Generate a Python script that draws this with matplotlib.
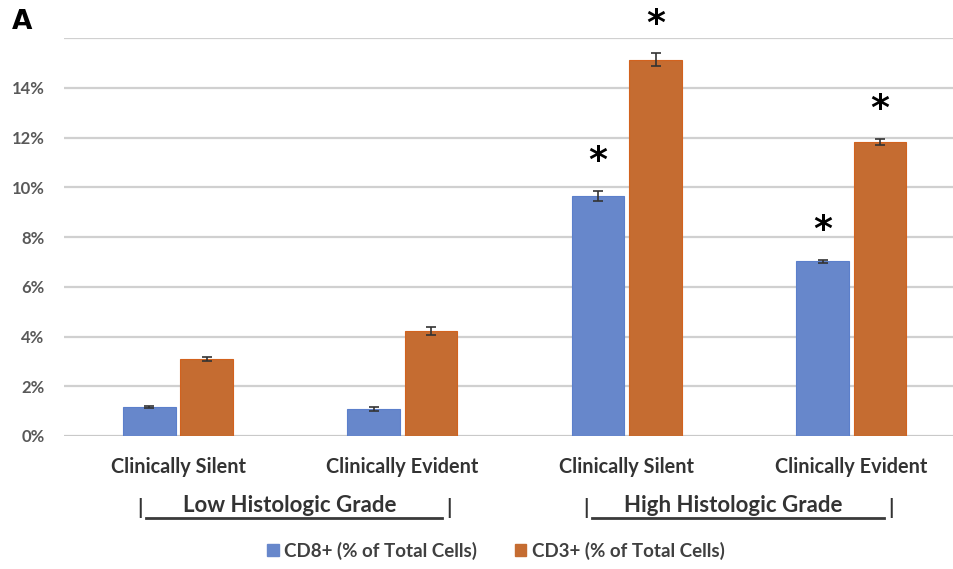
import matplotlib
matplotlib.use("Agg")
import matplotlib.pyplot as plt
import numpy as np
from matplotlib.lines import Line2D
from matplotlib.patches import Patch

categories = ["Clinically Silent", "Clinically Evident", "Clinically Silent", "Clinically Evident"]
groups = ["Low Histologic Grade", "High Histologic Grade"]
series_names = ["CD8+ (% of Total Cells)", "CD3+ (% of Total Cells)"]
cd8 = [1.17, 1.09, 9.66, 7.02]
cd8_err = [0.04, 0.08, 0.2, 0.07]
cd3 = [3.10, 4.23, 15.13, 11.83]
cd3_err = [0.07, 0.15, 0.25, 0.12]
cd8_sig = [False, False, True, True]
cd3_sig = [False, False, True, True]
yticks = [0, 2, 4, 6, 8, 10, 12, 14, 16]
ytick_labels = ["0%", "2%", "4%", "6%", "8%", "10%", "12%", "14%", ""]

W, H = 954, 569
fig = plt.figure(figsize=(W/100, H/100), dpi=100)
plt.rcParams['font.family'] = ['Lato', 'DejaVu Sans']

def fx(px):
    return px / W
def fy(py):
    return 1 - py / H

TXT = "#333333"
ax = fig.add_axes([fx(64), fy(436), fx(954) - fx(64), fy(38) - fy(436)])
x = np.arange(len(categories))
bw = 0.234
off = 0.128
blue = "#6787CB"
orange = "#C56C31"
ax.bar(x - off, cd8, bw, color=blue, edgecolor="#5B7FCB", linewidth=0.8, zorder=3)
ax.bar(x + off, cd3, bw, color=orange, edgecolor="#D2621E", linewidth=0.8, zorder=3)
ax.errorbar(x - off, cd8, yerr=cd8_err, fmt='none', ecolor="#333333", elinewidth=1.2, capsize=3.5, capthick=1.2, zorder=4)
ax.errorbar(x + off, cd3, yerr=cd3_err, fmt='none', ecolor="#333333", elinewidth=1.2, capsize=3.5, capthick=1.2, zorder=4)

for xs, vals, errs, sigs in [(x - off, cd8, cd8_err, cd8_sig), (x + off, cd3, cd3_err, cd3_sig)]:
    for xi, v, e, s in zip(xs, vals, errs, sigs):
        if s:
            ax.annotate("*", (xi, v + e), xytext=(0, 9), textcoords="offset points",
                        ha="center", va="bottom", fontsize=26, fontweight="bold",
                        color="black", family="DejaVu Sans")

ax.set_xlim(-0.508, 3.457)
ax.set_ylim(0, 16)
ax.set_yticks(yticks)
ax.set_yticklabels(ytick_labels, fontsize=12, fontweight="bold", color="#595959")
ax.yaxis.grid(True, color="#D0D0D0", linewidth=1.6, zorder=0)
ax.set_axisbelow(True)
ax.tick_params(axis="y", length=0, pad=14)
ax.set_xticks(x)
ax.set_xticklabels(categories, fontsize=14.3, color=TXT, fontweight="bold")
ax.tick_params(axis="x", length=0, pad=15)
for sp in ax.spines.values():
    sp.set_visible(False)
ax.axhline(0, color="#C8C8C8", linewidth=1.8, zorder=1)

# group labels
for gname, l, r in zip(groups, [140, 586], [449, 891]):
    fig.text(fx(l), fy(508), "|", fontsize=15, color=TXT, ha="center", va="center", fontweight="bold")
    fig.text(fx(r), fy(508), "|", fontsize=15, color=TXT, ha="center", va="center", fontweight="bold")
    fig.text(fx((l + r) / 2 - 5), fy(506), gname, fontsize=16, color=TXT, ha="center", va="center",
             fontweight="bold")
    fig.add_artist(Line2D([fx(l + 6), fx(r - 7)], [fy(518), fy(518)], color="#3A3A3A", linewidth=2))

handles = [Patch(facecolor=blue, edgecolor=blue), Patch(facecolor=orange, edgecolor=orange)]
leg = fig.legend(handles, series_names, loc="center", bbox_to_anchor=(fx(496), fy(551)), ncol=2,
                 frameon=False, handlelength=0.6, handleheight=0.6, handletextpad=0.3,
                 columnspacing=2.0, prop={"weight": "bold", "size": 13.5})
for t in leg.get_texts():
    t.set_color("#404040")

fig.text(fx(12), fy(22), "A", fontsize=19, fontweight="bold", ha="left", va="center", family="DejaVu Sans")

fig.savefig("out.png", dpi=100)
